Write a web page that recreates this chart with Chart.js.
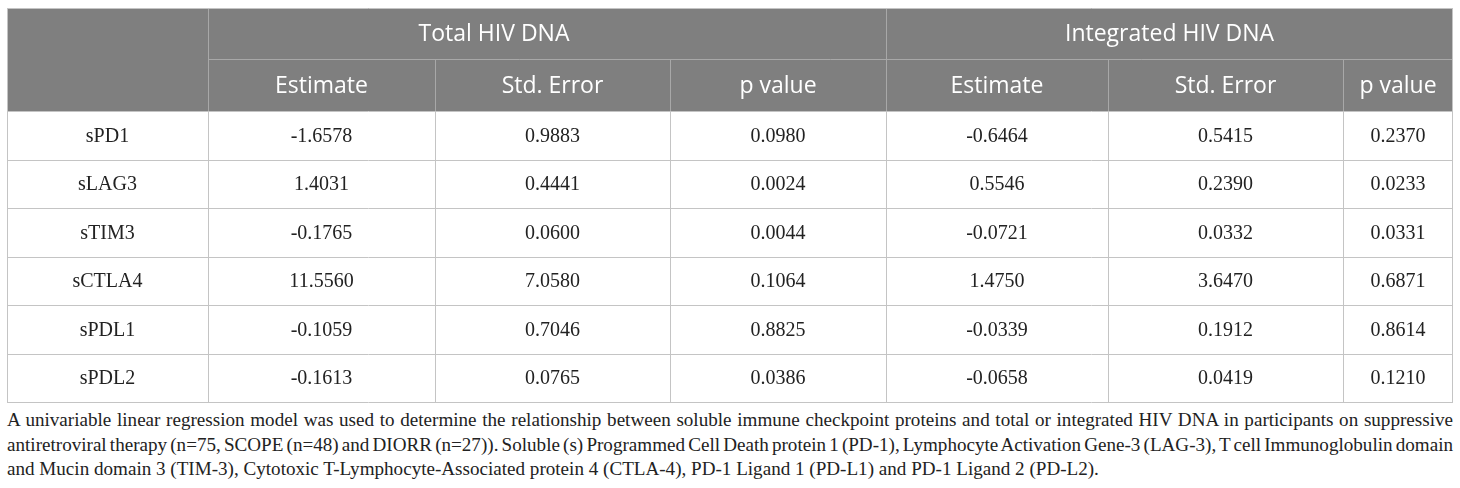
<!DOCTYPE html>
<html>
<head>
<meta charset="utf-8">
<script src="https://cdn.jsdelivr.net/npm/chart.js@4"></script>
<style>
    html, body { margin: 0; padding: 0; background: #fff; }
    #wrap { position: relative; width: 1460px; height: 406px; }
    #caption {
        position: absolute; left: 7px; top: 408px; width: 1446px;
        font-family: "Liberation Serif", "DejaVu Serif", serif;
        font-size: 19.1px; line-height: 24.5px; color: #222;
    }
    #caption div { white-space: nowrap; }
    #caption span { display: inline-block; white-space: nowrap; }
</style>
</head>
<body>
<div id="wrap"><canvas id="myChart"></canvas></div>
<div id="caption">
    <div><span class="just">A univariable linear regression model was used to determine the relationship between soluble immune checkpoint proteins and total or integrated HIV DNA in participants on suppressive</span></div>
    <div><span class="just">antiretroviral therapy (n=75, SCOPE (n=48) and DIORR (n=27)). Soluble (s) Programmed Cell Death protein 1 (PD-1), Lymphocyte Activation Gene-3 (LAG-3), T cell Immunoglobulin domain</span></div>
    <div><span>and Mucin domain 3 (TIM-3), Cytotoxic T-Lymphocyte-Associated protein 4 (CTLA-4), PD-1 Ligand 1 (PD-L1) and PD-1 Ligand 2 (PD-L2).</span></div>
</div>
<script>
// 표 데이터
var groups = ['Total HIV DNA', 'Integrated HIV DNA'];
var columns = ['Estimate', 'Std. Error', 'p value', 'Estimate', 'Std. Error', 'p value'];
var rowLabels = ['sPD1', 'sLAG3', 'sTIM3', 'sCTLA4', 'sPDL1', 'sPDL2'];

var totalEstimate = [-1.6578, 1.4031, -0.1765, 11.5560, -0.1059, -0.1613];
var totalStdError = [0.9883, 0.4441, 0.0600, 7.0580, 0.7046, 0.0765];
var totalP = [0.0980, 0.0024, 0.0044, 0.1064, 0.8825, 0.0386];
var integratedEstimate = [-0.6464, 0.5546, -0.0721, 1.4750, -0.0339, -0.0658];
var integratedStdError = [0.5415, 0.2390, 0.0332, 3.6470, 0.1912, 0.0419];
var integratedP = [0.2370, 0.0233, 0.0331, 0.6871, 0.8614, 0.1210];

// 레이아웃 (표 좌표계, 픽셀 단위)
var colEdges = [0, 201, 428, 663, 879, 1101, 1336, 1446];
var headRows = [0, 51, 103];
var rowHeight = 48.5;
var groupTextCenter = [487, null]; // 원본에서 'Total HIV DNA'는 약간 왼쪽에 있음

var valueCols = [totalEstimate, totalStdError, totalP, integratedEstimate, integratedStdError, integratedP];

// 캡션 양쪽 정렬 (단어 간격 조정)
document.querySelectorAll('#caption .just').forEach(function(el) {
    var spaces = el.textContent.split(' ').length - 1;
    var extra = (1446 - el.getBoundingClientRect().width) / spaces;
    el.style.wordSpacing = extra + 'px';
});

var tablePlugin = {
    id: 'tablePlugin',
    afterDraw: function(chart) {
        var ctx = chart.ctx;
        var x = chart.scales.x, y = chart.scales.y;
        function px(v) { return x.getPixelForValue(v); }
        function py(v) { return y.getPixelForValue(v); }
        var bodyTop = headRows[2];
        var bodyBottom = bodyTop + rowHeight * rowLabels.length;

        ctx.save();
        // 헤더 배경
        ctx.fillStyle = '#7f7f7f';
        ctx.fillRect(px(0), py(0), px(1446) - px(0), py(headRows[2]) - py(0));

        // 헤더 선
        ctx.strokeStyle = '#a8a8a8';
        ctx.lineWidth = 1;
        ctx.beginPath();
        ctx.moveTo(px(colEdges[1]), py(headRows[1]) + 0.5);
        ctx.lineTo(px(1446), py(headRows[1]) + 0.5);
        [1, 4].forEach(function(i) {
            ctx.moveTo(px(colEdges[i]) + 0.5, py(0));
            ctx.lineTo(px(colEdges[i]) + 0.5, py(headRows[2]));
        });
        [2, 3, 5, 6].forEach(function(i) {
            ctx.moveTo(px(colEdges[i]) + 0.5, py(headRows[1]));
            ctx.lineTo(px(colEdges[i]) + 0.5, py(headRows[2]));
        });
        ctx.stroke();

        // 본문 선
        ctx.strokeStyle = '#c4c4c4';
        ctx.beginPath();
        ctx.moveTo(px(0), py(0) + 0.5);
        ctx.lineTo(px(1446), py(0) + 0.5);
        for (var r = 0; r <= rowLabels.length; r++) {
            var yy = Math.round(py(bodyTop + r * rowHeight)) + 0.5;
            ctx.moveTo(px(0), yy);
            ctx.lineTo(px(1446), yy);
        }
        colEdges.forEach(function(e, i) {
            var top = (i === 0 || i === colEdges.length - 1) ? 0 : bodyTop;
            var xx = Math.round(px(e)) + (i === colEdges.length - 1 ? -0.5 : 0.5);
            ctx.moveTo(xx, py(top));
            ctx.lineTo(xx, py(bodyBottom));
        });
        ctx.stroke();

        // 헤더 텍스트
        ctx.fillStyle = '#ffffff';
        ctx.textAlign = 'center';
        ctx.textBaseline = 'middle';
        ctx.font = '23px "Open Sans", sans-serif';
        groups.forEach(function(g, i) {
            var cx = groupTextCenter[i] != null ? groupTextCenter[i] : (colEdges[1 + i * 3] + colEdges[4 + i * 3]) / 2;
            ctx.fillText(g, px(cx), py((headRows[0] + headRows[1]) / 2) + 1);
        });
        columns.forEach(function(c, i) {
            ctx.fillText(c, px((colEdges[i + 1] + colEdges[i + 2]) / 2), py((headRows[1] + headRows[2]) / 2) + 1);
        });

        // 본문 텍스트
        ctx.fillStyle = '#222222';
        ctx.font = '20px "Liberation Serif", "DejaVu Serif", serif';
        rowLabels.forEach(function(label, r) {
            var cy = py(bodyTop + (r + 0.5) * rowHeight) + 1;
            ctx.fillText(label, px((colEdges[0] + colEdges[1]) / 2), cy);
            valueCols.forEach(function(col, c) {
                ctx.fillText(col[r].toFixed(4), px((colEdges[c + 1] + colEdges[c + 2]) / 2), cy);
            });
        });
        ctx.restore();
    }
};

const ctx = document.getElementById('myChart').getContext('2d');
var myChart = new Chart(ctx, {
    type: 'scatter',
    data: { datasets: [{ data: [] }] },
    options: {
        responsive: true,
        maintainAspectRatio: false,
        animation: false,
        events: [],
        layout: { padding: { left: 7, right: 7, top: 8, bottom: 4 } },
        plugins: { legend: { display: false }, tooltip: { enabled: false } },
        scales: {
            x: { type: 'linear', min: 0, max: 1446, display: false },
            y: { type: 'linear', min: 0, max: 394, reverse: true, display: false }
        }
    },
    plugins: [tablePlugin]
});
</script>
</body>
</html>
